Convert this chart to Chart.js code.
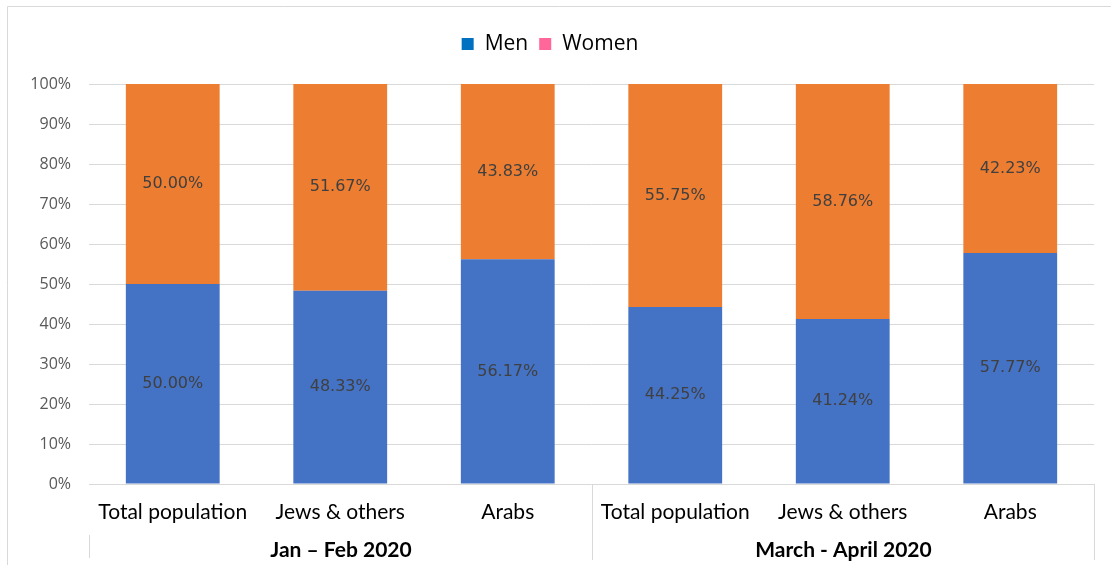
<!DOCTYPE html>
<html>
<head>
<meta charset="utf-8">
<script src="https://cdn.jsdelivr.net/npm/chart.js@4/dist/chart.umd.min.js"></script>
<style>
  html, body { margin: 0; padding: 0; background: #fff; }
  #wrap { width: 1111px; height: 565px; }
</style>
</head>
<body>
<div id="wrap"><canvas id="c" width="1111" height="565"></canvas></div>
<script>
// Categories and periods
const categories = ['Total population', 'Jews & others', 'Arabs', 'Total population', 'Jews & others', 'Arabs'];
const periods = ['Jan \u2013 Feb 2020', 'March - April 2020'];
const periodSize = 3;

// Shares by sex (%)
const seriesNames = ['Men', 'Women'];
const menValues = [50.00, 48.33, 56.17, 44.25, 41.24, 57.77];
const womenValues = [50.00, 51.67, 43.83, 55.75, 58.76, 42.23];

// Y axis ticks
const yTicks = [0, 10, 20, 30, 40, 50, 60, 70, 80, 90, 100];

const barColors = ['#4472C4', '#ED7D31'];
const legendColors = ['#0070C0', '#FF6699'];
const gridColor = '#d9d9d9';

// Frame, separators between periods and the period captions
const decorPlugin = {
  id: 'decor',
  beforeDraw(chart) {
    const ctx = chart.ctx;
    ctx.save();
    ctx.strokeStyle = gridColor;
    ctx.lineWidth = 1;
    ctx.beginPath();
    ctx.moveTo(7.5, 565);
    ctx.lineTo(7.5, 6.5);
    ctx.lineTo(1111, 6.5);
    ctx.stroke();
    ctx.restore();
  },
  afterDraw(chart) {
    const ctx = chart.ctx;
    const x = chart.scales.x;
    const area = chart.chartArea;
    const step = x.getPixelForValue(1) - x.getPixelForValue(0);
    ctx.save();
    ctx.strokeStyle = gridColor;
    ctx.lineWidth = 1;
    // boundaries
    const bounds = [];
    for (let g = 0; g <= periods.length; g++) {
      const idx = g * periodSize;
      bounds.push(Math.round(x.getPixelForValue(0) - step / 2 + idx * step) + 0.5);
    }
    bounds.forEach((bx, i) => {
      ctx.beginPath();
      if (i === 0) {
        ctx.moveTo(bx, 535); ctx.lineTo(bx, 558);
      } else {
        ctx.moveTo(bx, area.bottom); ctx.lineTo(bx, 560);
      }
      ctx.stroke();
    });
    // period captions
    ctx.fillStyle = '#000';
    ctx.font = 'bold 21px Lato, "Open Sans", sans-serif';
    ctx.textAlign = 'center';
    ctx.textBaseline = 'middle';
    periods.forEach((p, g) => {
      const cx = (bounds[g] + bounds[g + 1]) / 2;
      ctx.fillText(p, cx, 550);
    });

    // legend
    ctx.font = '21px "Open Sans", sans-serif';
    ctx.textAlign = 'left';
    const box = 12, gapBoxText = 11, gapItems = 11;
    const widths = seriesNames.map(n => box + gapBoxText + ctx.measureText(n).width);
    const total = widths.reduce((a, b) => a + b, 0) + gapItems * (seriesNames.length - 1);
    let lx = 550 - total / 2;
    const ly = 44;
    seriesNames.forEach((n, i) => {
      ctx.fillStyle = legendColors[i];
      ctx.fillRect(lx, ly - box / 2, box, box);
      ctx.fillStyle = '#000';
      ctx.fillText(n, lx + box + gapBoxText, ly);
      lx += widths[i] + gapItems;
    });

    // value labels centred in each segment
    ctx.font = '16px "DejaVu Sans", sans-serif';
    ctx.fillStyle = '#404040';
    ctx.textAlign = 'center';
    chart.data.datasets.forEach((ds, di) => {
      const meta = chart.getDatasetMeta(di);
      meta.data.forEach((bar, i) => {
        const p = bar.getProps(['x', 'y', 'base'], true);
        ctx.fillText(ds.data[i].toFixed(2) + '%', p.x, (p.y + p.base) / 2);
      });
    });
    ctx.restore();
  }
};

new Chart(document.getElementById('c'), {
  type: 'bar',
  data: {
    labels: categories,
    datasets: [
      { label: seriesNames[0], data: menValues, backgroundColor: barColors[0] },
      { label: seriesNames[1], data: womenValues, backgroundColor: barColors[1] }
    ]
  },
  options: {
    responsive: false,
    animation: false,
    devicePixelRatio: 1,
    layout: { padding: { top: 84, right: 17, bottom: 0, left: 0 } },
    datasets: { bar: { categoryPercentage: 1, barPercentage: 0.56 } },
    plugins: { legend: { display: false }, tooltip: { enabled: false } },
    scales: {
      x: {
        stacked: true,
        grid: { display: false },
        border: { display: false },
        ticks: {
          color: '#000',
          font: { family: 'Lato, "Open Sans", sans-serif', size: 21 },
          padding: 8,
          maxRotation: 0,
          autoSkip: false
        },
        afterFit(s) { s.height = 81; }
      },
      y: {
        stacked: true,
        min: 0,
        max: 100,
        afterBuildTicks(s) { s.ticks = yTicks.map(v => ({ value: v })); },
        grid: { color: gridColor, drawTicks: false },
        border: { display: false },
        ticks: {
          color: '#595959',
          font: { family: '"Open Sans", sans-serif', size: 16 },
          padding: 18,
          callback: v => v + '%'
        },
        afterFit(s) { s.width = 89; }
      }
    }
  },
  plugins: [decorPlugin]
});
</script>
</body>
</html>
